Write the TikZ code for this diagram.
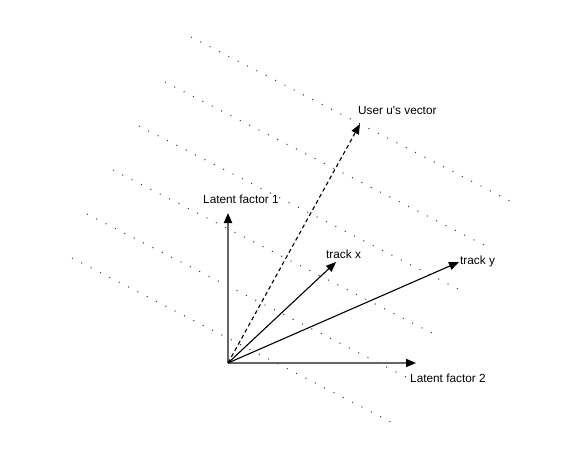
\documentclass[tikz,border=0pt]{standalone}
\usepackage{fontspec}
\setmainfont{Liberation Sans}
\usetikzlibrary{arrows.meta}

\tikzset{
  axis/.style={line width=1.8pt, draw=black!60, -{Triangle[length=10pt,width=8pt,color=black]}},
  vec/.style={line width=1.1pt, -{Triangle[length=10pt,width=8pt]}},
  pref/.style={line width=1pt, draw=black!80, dash pattern=on 1pt off 9.5pt},
  lbl/.style={inner sep=0pt, anchor=west, font=\fontsize{11.8}{14}\selectfont}
}

\begin{document}
\begin{tikzpicture}[x=1pt,y=1pt]
	\useasboundingbox (-228,-87) rectangle (360,363);
	% lines of equal preference
	\foreach \sx/\sy/\ex/\ey in {-37/326/284/161, -63/281/258/117, -89/237/232/73,
	                             -115/193/206/29, -141/149/180/-15, -156/105/165/-60}
	  \draw[pref] (\sx,\sy) -- (\ex,\ey);

	\coordinate (O) at (0,0);
	\coordinate (lf1) at (0,150);
	\coordinate (lf2) at (188,0);
	\coordinate (u) at (132,239);
	\coordinate (tx) at (108,101);
	\coordinate (ty) at (231,101);

        % axes
	\draw[axis] (O) -- (lf1);
	\draw[axis] (O) -- (lf2);
        \node[lbl] (lf1lbl) at (-25,164) {Latent factor 1};
        \node[lbl] (lf2lbl) at (182,-15) {Latent factor 2};

        % user vector
	\draw[vec, dash pattern=on 4pt off 3pt] (O) -- (u);
        \node[lbl] (ulbl) at (130,253) {User u\textquotesingle s vector};

        % tracks
	\draw[vec] (O) -- (tx);
	\draw[vec] (O) -- (ty);
        \node[lbl] (txlbl) at (98,109) {track x};
        \node[lbl] (tylbl) at (232,102) {track y};
\end{tikzpicture}
\end{document}
